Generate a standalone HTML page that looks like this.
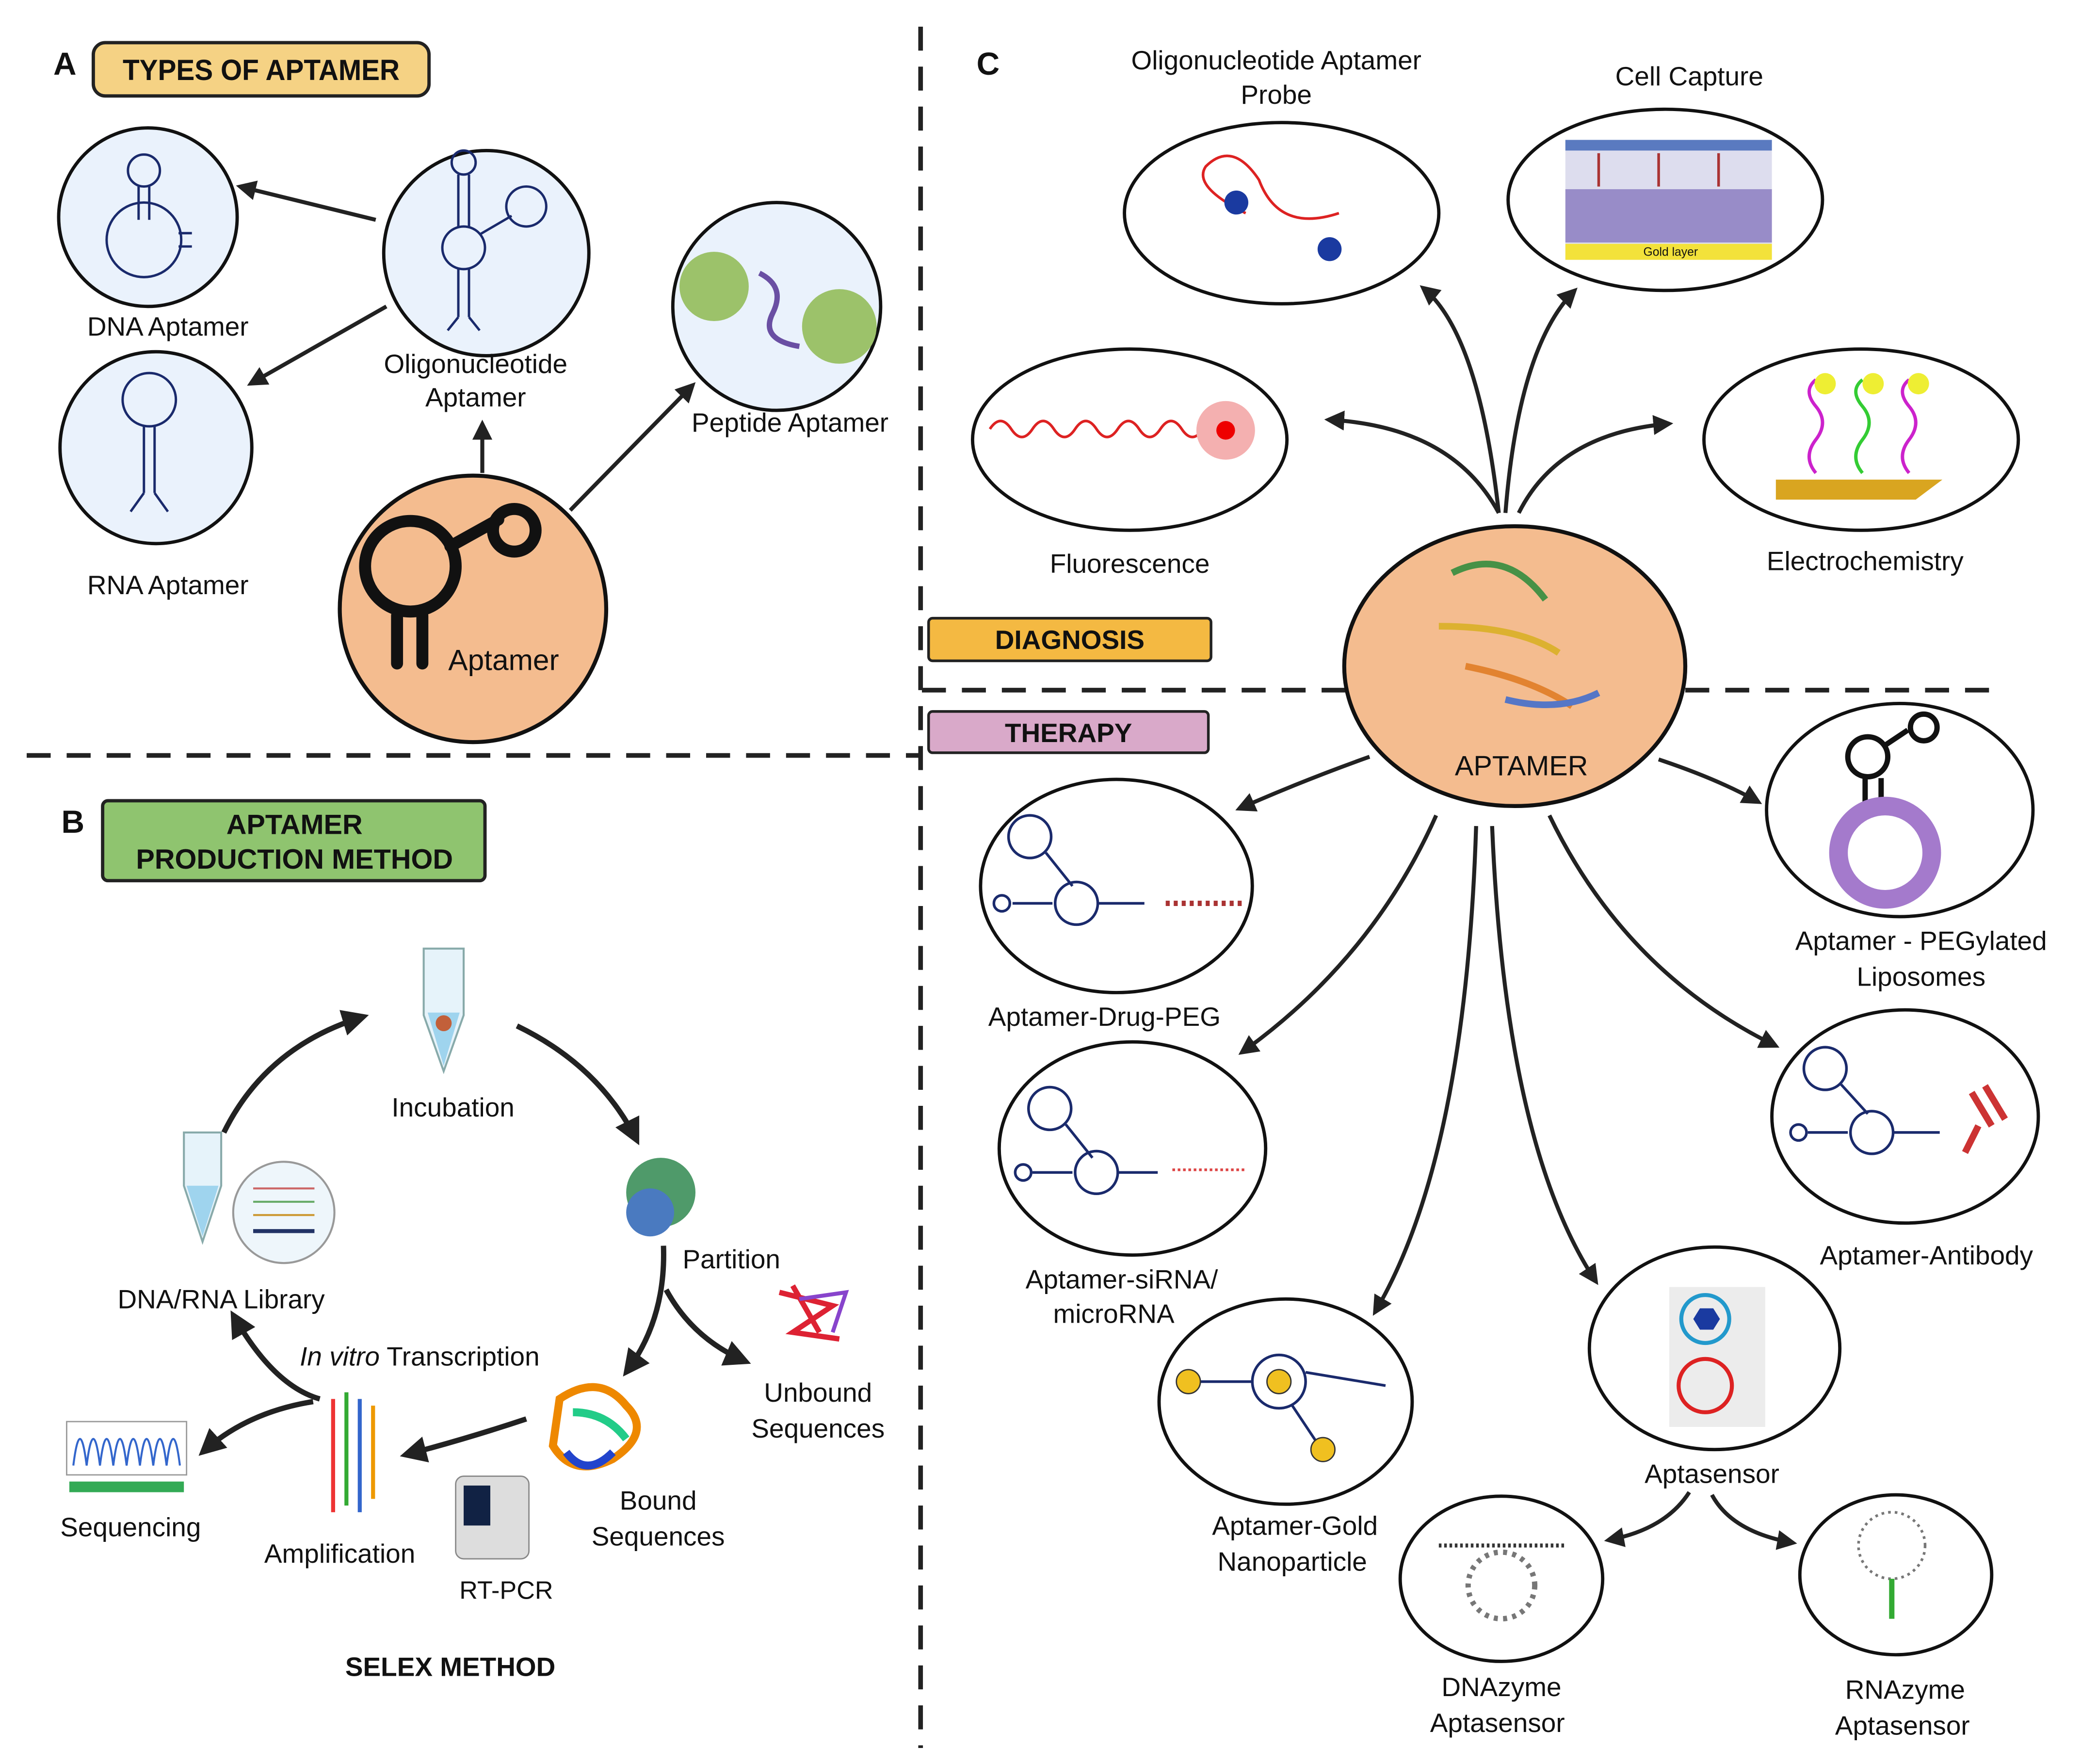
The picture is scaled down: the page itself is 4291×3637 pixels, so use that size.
<!DOCTYPE html>
<html><head><meta charset="utf-8"><style>
html,body{margin:0;padding:0;background:#fff}
svg{display:block}
text{font-family:"Liberation Sans",sans-serif;fill:#111}
</style></head><body>
<svg width="4291" height="3637" viewBox="0 0 1562 1324" xmlns="http://www.w3.org/2000/svg">
<defs>
<marker id="ah" viewBox="0 0 10 10" refX="8" refY="5" markerWidth="5" markerHeight="5" orient="auto-start-reverse"><path d="M0,0 L10,5 L0,10 Z" fill="#222"/></marker>
</defs>
<rect width="1562" height="1324" fill="#fff"/>
<g stroke="#222" stroke-width="3.5" stroke-dasharray="18,12" fill="none">
<line x1="691" y1="20" x2="691" y2="1312"/>
<line x1="20" y1="567" x2="690" y2="567"/>
<line x1="692" y1="518" x2="1010" y2="518"/>
<line x1="1265" y1="518" x2="1500" y2="518"/>
</g>

<text x="40" y="56" font-size="24" font-weight="bold">A</text>
<rect x="70" y="32" width="252" height="40" rx="9" fill="#f5d284" stroke="#222" stroke-width="2.5"/>
<text x="196" y="60" font-size="22" font-weight="bold" text-anchor="middle" transform="translate(196 0) scale(0.94 1) translate(-196 0)">TYPES OF APTAMER</text>
<g stroke="#111" stroke-width="2.5" fill="#eaf2fc">
<circle cx="111" cy="163" r="67"/>
<circle cx="117" cy="336" r="72"/>
<circle cx="365" cy="190" r="77"/>
<circle cx="583" cy="230" r="78"/>
</g>
<g stroke="#1a2a6c" stroke-width="1.8" fill="none">
<circle cx="108" cy="128" r="12"/><line x1="104" y1="140" x2="104" y2="165"/><line x1="112" y1="140" x2="112" y2="165"/>
<circle cx="108" cy="180" r="28"/><path d="M134,175 h10 M134,185 h10"/>
<circle cx="112" cy="300" r="20"/><line x1="108" y1="320" x2="108" y2="370"/><line x1="116" y1="320" x2="116" y2="370"/>
<path d="M108,370 l-10,14 M116,370 l10,14"/>
<circle cx="348" cy="122" r="9"/><line x1="344" y1="131" x2="344" y2="170"/><line x1="352" y1="131" x2="352" y2="170"/>
<circle cx="348" cy="186" r="16"/><line x1="360" y1="176" x2="384" y2="162"/><circle cx="395" cy="155" r="15"/>
<line x1="344" y1="202" x2="344" y2="238"/><line x1="352" y1="202" x2="352" y2="238"/><path d="M344,238 l-8,10 M352,238 l8,10"/>
</g>
<circle cx="536" cy="215" r="26" fill="#9cc26a"/><circle cx="630" cy="245" r="28" fill="#9cc26a"/>
<path d="M570,205 q20,10 10,30 q-10,20 20,25" stroke="#6a4fa3" stroke-width="4" fill="none"/>
<circle cx="355" cy="457" r="100" fill="#f4bc8f" stroke="#111" stroke-width="3"/>
<g stroke="#111" stroke-width="9" fill="none" stroke-linecap="round">
<circle cx="308" cy="425" r="34"/>
<path d="M298,462 v36 M317,462 v36"/>
<path d="M338,410 l36,-20"/>
<circle cx="386" cy="398" r="16"/>
</g>
<text x="378" y="503" font-size="22" text-anchor="middle">Aptamer</text>
<g font-size="20" text-anchor="middle">
<text x="126" y="252">DNA Aptamer</text>
<text x="126" y="446">RNA Aptamer</text>
<text x="357" y="280">Oligonucleotide</text>
<text x="357" y="305">Aptamer</text>
<text x="593" y="324">Peptide Aptamer</text>
</g>
<g stroke="#222" stroke-width="3" fill="none" marker-end="url(#ah)">
<line x1="282" y1="165" x2="180" y2="140"/>
<line x1="290" y1="230" x2="188" y2="288"/>
<line x1="362" y1="355" x2="362" y2="318"/>
<line x1="428" y1="383" x2="520" y2="289"/>
</g>

<text x="46" y="625" font-size="24" font-weight="bold">B</text>
<rect x="77" y="601" width="287" height="60" rx="4" fill="#8fc46f" stroke="#222" stroke-width="2.5"/>
<text x="221" y="626" font-size="21" font-weight="bold" text-anchor="middle">APTAMER</text>
<text x="221" y="652" font-size="21" font-weight="bold" text-anchor="middle">PRODUCTION METHOD</text>
<path d="M318,712 h30 v50 l-15,42 l-15,-42 z" fill="#e6f3fa" stroke="#8aa" stroke-width="1.5"/>
<path d="M321,760 h24 l-12,40 z" fill="#9fd4ee"/><circle cx="333" cy="768" r="6" fill="#c2603a"/>
<path d="M138,850 h28 v40 l-14,42 l-14,-42 z" fill="#e6f3fa" stroke="#8aa" stroke-width="1.5"/>
<path d="M140,890 h24 l-12,38 z" fill="#9fd4ee"/>
<circle cx="213" cy="910" r="38" fill="#eef6fb" stroke="#999" stroke-width="1.5"/>
<g stroke-width="1.5"><line x1="190" y1="892" x2="236" y2="892" stroke="#c66"/><line x1="190" y1="902" x2="236" y2="902" stroke="#6a6"/><line x1="190" y1="912" x2="236" y2="912" stroke="#c93"/><line x1="190" y1="924" x2="236" y2="924" stroke="#236" stroke-width="3"/></g>
<circle cx="496" cy="895" r="26" fill="#4f9a6a"/><circle cx="488" cy="910" r="18" fill="#4a7ac0"/>
<path d="M585,970 l40,10 l-30,20 l35,5 M595,965 l20,35" stroke="#d23" stroke-width="4" fill="none"/><path d="M600,975 l35,-5 l-10,30" stroke="#84c" stroke-width="3" fill="none"/>
<path d="M420,1050 q30,-20 50,5 q20,20 -10,40 q-30,15 -45,-10 z" fill="none" stroke="#e80" stroke-width="6"/>
<path d="M430,1060 q25,0 40,20" stroke="#2c8" stroke-width="6" fill="none"/><path d="M425,1090 q15,20 35,0" stroke="#24c" stroke-width="6" fill="none"/>
<g stroke-width="3"><line x1="250" y1="1050" x2="250" y2="1135" stroke="#e33"/><line x1="260" y1="1045" x2="260" y2="1130" stroke="#3a3"/><line x1="270" y1="1050" x2="270" y2="1135" stroke="#36c"/><line x1="280" y1="1055" x2="280" y2="1125" stroke="#e90"/></g>
<rect x="342" y="1108" width="55" height="62" rx="6" fill="#ddd" stroke="#888"/><rect x="348" y="1115" width="20" height="30" fill="#124"/>
<rect x="50" y="1067" width="90" height="40" fill="#fff" stroke="#999"/>
<path d="M55,1100 q5,-40 10,0 q5,-40 10,0 q5,-40 10,0 q5,-40 10,0 q5,-40 10,0 q5,-40 10,0 q5,-40 10,0 q5,-40 10,0" stroke="#36c" fill="none" stroke-width="1.5"/>
<rect x="52" y="1112" width="86" height="8" fill="#3a5"/>
<g font-size="20" text-anchor="middle">
<text x="340" y="838">Incubation</text>
<text x="166" y="982">DNA/RNA Library</text>
<text x="549" y="952">Partition</text>
<text x="614" y="1052">Unbound</text>
<text x="614" y="1079">Sequences</text>
<text x="494" y="1133">Bound</text>
<text x="494" y="1160">Sequences</text>
<text x="315" y="1025"><tspan font-style="italic">In vitro</tspan> Transcription</text>
<text x="98" y="1153">Sequencing</text>
<text x="255" y="1173">Amplification</text>
<text x="380" y="1200" font-size="19">RT-PCR</text>
</g>
<text x="338" y="1258" font-size="20" font-weight="bold" text-anchor="middle">SELEX METHOD</text>
<g stroke="#222" stroke-width="4" fill="none" marker-end="url(#ah)">
<path d="M168,850 Q200,785 273,763"/>
<path d="M388,770 Q450,800 478,856"/>
<path d="M498,935 Q500,990 470,1030"/>
<path d="M500,968 Q520,1005 560,1022"/>
<path d="M395,1065 Q350,1080 304,1092"/>
<path d="M240,1050 Q205,1040 175,987"/>
<path d="M235,1052 Q185,1060 152,1090"/>
</g>

<text x="733" y="56" font-size="24" font-weight="bold">C</text>
<g stroke="#111" stroke-width="2.5" fill="#fff">
<ellipse cx="962" cy="160" rx="118" ry="68"/>
<ellipse cx="1250" cy="150" rx="118" ry="68"/>
<ellipse cx="848" cy="330" rx="118" ry="68"/>
<ellipse cx="1397" cy="330" rx="118" ry="68"/>
<ellipse cx="838" cy="665" rx="102" ry="80"/>
<ellipse cx="1426" cy="608" rx="100" ry="80"/>
<ellipse cx="850" cy="862" rx="100" ry="80"/>
<ellipse cx="1430" cy="838" rx="100" ry="80"/>
<ellipse cx="965" cy="1052" rx="95" ry="77"/>
<ellipse cx="1287" cy="1012" rx="94" ry="76"/>
<ellipse cx="1127" cy="1185" rx="76" ry="62"/>
<ellipse cx="1423" cy="1182" rx="72" ry="60"/>
</g>
<path d="M935,160 q-40,-20 -30,-35 q20,-20 40,10 q15,40 60,25" stroke="#d22" stroke-width="2" fill="none"/>
<circle cx="928" cy="152" r="9" fill="#1a3aa0"/><circle cx="998" cy="187" r="9" fill="#1a3aa0"/>
<rect x="1175" y="105" width="155" height="90" fill="#dde"/><rect x="1175" y="105" width="155" height="8" fill="#5a7ac0"/>
<rect x="1175" y="183" width="155" height="12" fill="#f3e23a"/>
<g stroke="#a33" stroke-width="2"><line x1="1200" y1="115" x2="1200" y2="140"/><line x1="1245" y1="115" x2="1245" y2="140"/><line x1="1290" y1="115" x2="1290" y2="140"/></g>
<rect x="1175" y="142" width="155" height="40" fill="#7a6ab8" opacity=".7"/>
<text x="1254" y="192" font-size="9" text-anchor="middle">Gold layer</text>
<path d="M743,322 q8,-12 16,0 t16,0 t16,0 t16,0 t16,0 t16,0 t16,0 t16,0 t16,0 t16,0" stroke="#d22" stroke-width="2" fill="none"/>
<circle cx="920" cy="323" r="22" fill="#f4b0b0"/><circle cx="920" cy="323" r="7" fill="#e00"/>
<path d="M1333,360 h125 l-20,15 h-105 z" fill="#d9a520"/>
<g stroke-width="2.5" fill="none"><path d="M1363,355 q-10,-12 0,-25 t0,-25 t0,-20" stroke="#c2c"/><path d="M1398,355 q-10,-12 0,-25 t0,-25 t0,-20" stroke="#3c3"/><path d="M1433,355 q-10,-12 0,-25 t0,-25 t0,-20" stroke="#c2c"/></g>
<circle cx="1370" cy="288" r="8" fill="#ee3"/><circle cx="1406" cy="288" r="8" fill="#ee3"/><circle cx="1440" cy="288" r="8" fill="#ee3"/>
<ellipse cx="1137" cy="500" rx="128" ry="105" fill="#f4bc8f" stroke="#111" stroke-width="3"/>
<g stroke-width="5" fill="none" opacity=".85">
<path d="M1090,430 q40,-20 70,20" stroke="#2a8a3a"/><path d="M1080,470 q60,0 90,20" stroke="#d8b020"/>
<path d="M1100,500 q50,10 80,30" stroke="#e07a20"/><path d="M1130,525 q40,10 70,-5" stroke="#3a6ad0"/>
</g>
<text x="1142" y="582" font-size="21" text-anchor="middle">APTAMER</text>
<rect x="697" y="464" width="212" height="32" rx="3" fill="#f4b942" stroke="#222" stroke-width="2"/>
<text x="803" y="487" font-size="20" font-weight="bold" text-anchor="middle">DIAGNOSIS</text>
<rect x="697" y="534" width="210" height="31" rx="3" fill="#d9a9c9" stroke="#222" stroke-width="2"/>
<text x="802" y="557" font-size="20" font-weight="bold" text-anchor="middle">THERAPY</text>
<g stroke="#1a2a6c" stroke-width="2" fill="none">
<circle cx="773" cy="628" r="16"/><path d="M785,640 l20,25"/><circle cx="808" cy="678" r="16"/><path d="M790,678 h-30"/><circle cx="752" cy="678" r="6"/><path d="M824,678 h35"/>
<circle cx="788" cy="832" r="16"/><path d="M800,844 l20,25"/><circle cx="823" cy="880" r="16"/><path d="M805,880 h-30"/><circle cx="768" cy="880" r="6"/><path d="M839,880 h30"/>
<circle cx="1370" cy="802" r="16"/><path d="M1382,814 l20,22"/><circle cx="1405" cy="850" r="16"/><path d="M1387,850 h-30"/><circle cx="1350" cy="850" r="6"/><path d="M1421,850 h35"/>
<circle cx="960" cy="1037" r="20"/><path d="M940,1037 h-45"/><path d="M980,1030 l60,10"/><path d="M970,1055 l20,30"/>
</g>
<g stroke="#111" stroke-width="4" fill="none">
<circle cx="1402" cy="568" r="15"/><path d="M1414,560 l18,-12"/><circle cx="1444" cy="546" r="10"/><path d="M1400,584 v22 M1412,584 v22"/>
</g>
<path d="M875,678 h60" stroke="#a33" stroke-width="4" stroke-dasharray="3,3"/>
<path d="M880,878 h55" stroke="#d44" stroke-width="2" stroke-dasharray="2,2"/>
<path d="M1480,820 l15,25 M1490,815 l15,25 M1485,845 l-10,20" stroke="#c33" stroke-width="5" fill="none"/>
<circle cx="1415" cy="640" r="35" fill="none" stroke="#a47acc" stroke-width="14"/>
<circle cx="892" cy="1037" r="9" fill="#f0c020" stroke="#333"/><circle cx="960" cy="1037" r="9" fill="#f0c020" stroke="#333"/><circle cx="993" cy="1088" r="9" fill="#f0c020" stroke="#333"/>
<rect x="1253" y="966" width="72" height="105" fill="#ececec"/>
<circle cx="1280" cy="990" r="18" fill="none" stroke="#29c" stroke-width="3"/><path d="M1271,990 l5,-8 h10 l5,8 l-5,8 h-10 z" fill="#1a3aa0"/>
<circle cx="1280" cy="1040" r="20" fill="none" stroke="#d22" stroke-width="3"/>
<path d="M1080,1160 h95" stroke="#333" stroke-width="3" stroke-dasharray="2,2"/>
<circle cx="1127" cy="1190" r="25" fill="none" stroke="#777" stroke-width="4" stroke-dasharray="3,4"/>
<circle cx="1420" cy="1160" r="25" fill="none" stroke="#777" stroke-width="2" stroke-dasharray="2,3"/>
<path d="M1420,1185 v30" stroke="#3a3" stroke-width="4"/>
<g font-size="20" text-anchor="middle">
<text x="958" y="52">Oligonucleotide Aptamer</text><text x="958" y="78">Probe</text>
<text x="1268" y="64">Cell Capture</text>
<text x="848" y="430">Fluorescence</text>
<text x="1400" y="428">Electrochemistry</text>
<text x="829" y="770">Aptamer-Drug-PEG</text>
<text x="1442" y="713">Aptamer - PEGylated</text><text x="1442" y="740">Liposomes</text>
<text x="842" y="967">Aptamer-siRNA/</text><text x="836" y="993">microRNA</text>
<text x="1446" y="949">Aptamer-Antibody</text>
<text x="972" y="1152">Aptamer-Gold</text><text x="970" y="1179">Nanoparticle</text>
<text x="1285" y="1113">Aptasensor</text>
<text x="1127" y="1273">DNAzyme</text><text x="1124" y="1300">Aptasensor</text>
<text x="1430" y="1275">RNAzyme</text><text x="1428" y="1302">Aptasensor</text>
</g>
<g stroke="#222" stroke-width="3" fill="none" marker-end="url(#ah)">
<path d="M1125,385 Q1110,250 1068,216"/>
<path d="M1130,385 Q1140,260 1182,218"/>
<path d="M1125,385 Q1090,320 997,315"/>
<path d="M1140,385 Q1170,325 1253,318"/>
<path d="M1028,568 Q980,585 930,607"/>
<path d="M1245,570 Q1290,585 1320,602"/>
<path d="M1078,612 Q1030,720 932,790"/>
<path d="M1163,612 Q1220,730 1333,785"/>
<path d="M1108,620 Q1100,870 1032,985"/>
<path d="M1120,620 Q1130,860 1198,962"/>
<path d="M1268,1120 Q1250,1148 1207,1156"/>
<path d="M1285,1122 Q1300,1150 1346,1158"/>
</g>
</svg>
</body></html>
